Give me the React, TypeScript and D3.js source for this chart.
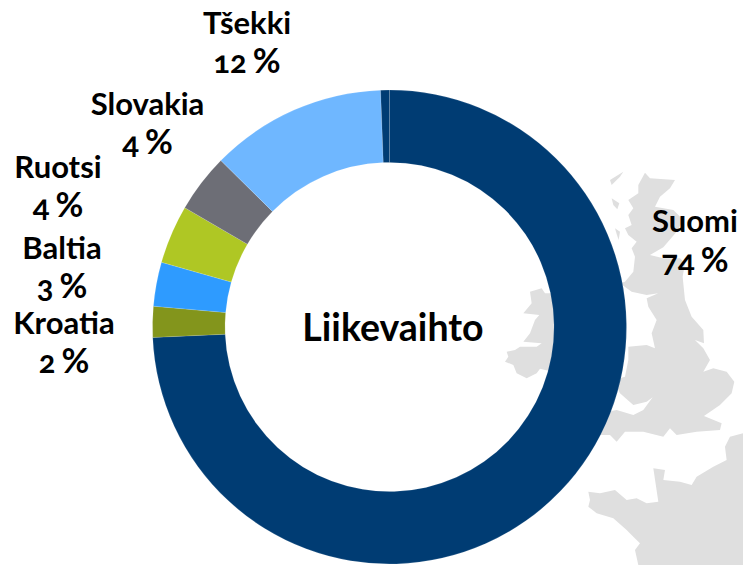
import React from "react";
import * as d3 from "d3";

const categories = ["Suomi", "Kroatia", "Baltia", "Ruotsi", "Slovakia", "Tšekki", "Muu"];
const values = [74.3, 2.1, 3, 4, 4, 12, 0.6];
const colors = ["#003C73", "#83951C", "#2E9BFF", "#AFC724", "#6D6E76", "#6FB7FF", "#003C73"];
const labelNames = ["Suomi", "Kroatia", "Baltia", "Ruotsi", "Slovakia", "Tšekki"];
const labelNumbers = ["74", "2", "3", "4", "4", "12"];
const labelX = [695, 64, 62, 58, 147.5, 247];
const labelNameY = [232, 334, 259, 178, 115, 34];
const labelPctY = [272, 373, 298, 217, 154, 73];

// Background map outlines (in 3x crop units)
const ireland = "M90,395 L125,385 L135,400 L160,400 L220,400 L220,650 L120,626 L110,640 L80,655 L50,640 L40,615 L15,605 L25,590 L20,575 L45,570 L60,560 L110,560 L125,550 L70,545 L90,520 L105,480 L118,465 L70,460 L95,430 Z";
const britain = "M435,38 L450,55 L525,60 L510,85 L480,110 L465,140 L520,150 L550,180 L530,215 L490,262 L450,285 L490,295 L540,295 L555,310 L548,350 L555,420 L575,470 L610,510 L612,550 L585,540 L610,565 L630,600 L610,635 L640,625 L680,635 L703,665 L695,700 L660,735 L612,768 L665,790 L660,810 L590,815 L530,825 L510,805 L490,830 L430,815 L375,815 L350,845 L330,825 L280,825 L300,760 L350,750 L400,765 L430,750 L458,712 L440,725 L400,735 L360,700 L340,660 L375,650 L385,600 L385,560 L440,555 L465,565 L455,520 L470,480 L445,440 L440,415 L475,400 L440,405 L395,395 L360,370 L375,365 L400,335 L405,290 L395,265 L410,245 L385,225 L375,205 L395,195 L385,165 L400,145 L385,120 L415,100 L415,75 Z";
const skye = "M330,60 L370,35 L360,50 L335,75 Z";
const lewis = "M335,115 L358,130 L352,148 L340,135 Z";
const mull = "M345,205 L360,215 L356,240 L350,222 Z";
const france = "M729,820 L690,830 L675,860 L680,900 L640,920 L590,950 L575,975 L540,965 L490,960 L495,930 L460,925 L475,1025 L440,1030 L410,1015 L380,1020 L345,990 L300,1000 L265,995 L270,1020 L265,1040 L290,1060 L340,1075 L380,1110 L400,1130 L420,1150 L405,1170 L415,1215 L729,1215 Z";
const mapShapes = [ireland, britain, skye, lewis, mull, france];

const cx = 389.5;
const cy = 327;
const outer = 237;
const inner = 164.5;

export default function App() {
  const pie = d3.pie<number>().sort(null)(values);
  const arc = d3.arc<d3.PieArcDatum<number>>().innerRadius(inner).outerRadius(outer);
  return (
    <svg width={743} height={565} style={{ position: "absolute", left: 0, top: 0 }} fontFamily="Lato, sans-serif" fontWeight={700}>
      <g transform="translate(500,160) scale(0.3333)" fill="#DFDFDF">
        {mapShapes.map((d, i) => <path key={i} d={d} />)}
      </g>
      <g transform={`translate(${cx},${cy})`}>
        {pie.map((p, i) => (
          <path key={categories[i]} d={arc(p) ?? ""} fill={colors[i]} stroke="#ffffff" strokeOpacity={0.25} strokeWidth={0.5} />
        ))}
      </g>
      <text x={393} y={341} textAnchor="middle" fontSize={37.5} fill="#000">Liikevaihto</text>
      {labelNames.map((n, i) => (
        <g key={n} textAnchor="middle" fontSize={31} fill="#000" style={{ fontFeatureSettings: '"onum"' }}>
          <text x={labelX[i]} y={labelNameY[i]}>{n}</text>
          <text x={labelX[i]} y={labelPctY[i]}>
            {labelNumbers[i]}
            <tspan dx={6} fontSize={34}>%</tspan>
          </text>
        </g>
      ))}
    </svg>
  );
}
